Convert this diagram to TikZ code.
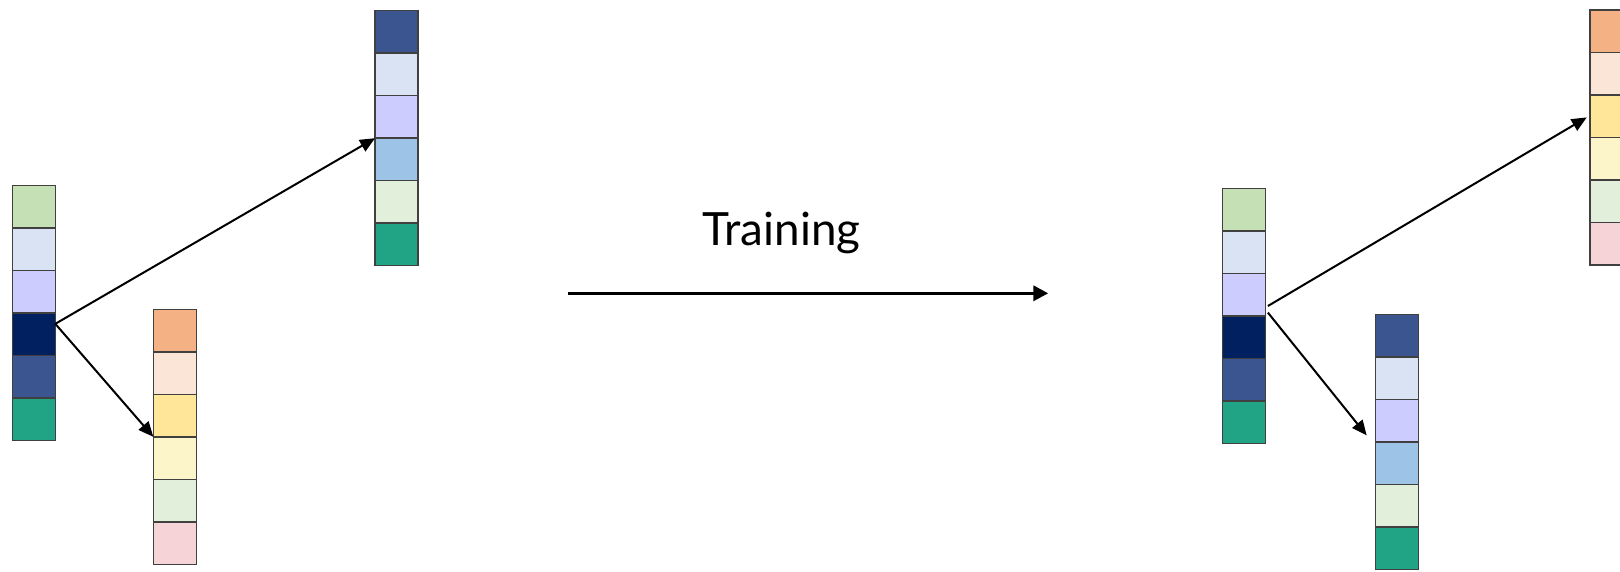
\documentclass[tikz,border=0pt]{standalone}
\usepackage{fontspec}
\setmainfont{Lato}
\usetikzlibrary{arrows.meta,calc}

\definecolor{cGreen}{HTML}{C5E0B4}
\definecolor{cIce}{HTML}{DAE3F3}
\definecolor{cLav}{HTML}{CCCCFF}
\definecolor{cNavy}{HTML}{002060}
\definecolor{cBlue}{HTML}{3B5590}
\definecolor{cTeal}{HTML}{21A386}
\definecolor{cSky}{HTML}{9DC3E6}
\definecolor{cMint}{HTML}{E2EFDA}
\definecolor{cOrange}{HTML}{F4B183}
\definecolor{cPeach}{HTML}{FBE5D6}
\definecolor{cYellow}{HTML}{FFE699}
\definecolor{cCream}{HTML}{FDF5CA}
\definecolor{cPink}{HTML}{F5D3D7}

\tikzset{
  cell/.style={draw=black!75, line width=1.5pt, minimum width=43pt,
    minimum height=42.5pt, inner sep=0pt, outer sep=0pt, anchor=north west},
  link/.style={line width=2pt, -{Triangle[length=15pt,width=13pt]}},
  bigarrow/.style={line width=3.5pt, -{Triangle[length=15pt,width=15pt]}},
  caption/.style={font=\fontsize{45.8}{55}\selectfont, inner sep=0pt, anchor=base}
}

% a vertical stack of six coloured cells: name, left x, top y, colours
\newcommand\cellstack[4]{%
  \foreach \c [count=\i] in {#4} {
    \node[cell, fill=\c] (#1\i) at (#2, {#3+(\i-1)*42.5}) {};
  }%
}

\begin{document}
\begin{tikzpicture}[x=1pt, y=-1pt]
\useasboundingbox (0,0) rectangle (1620,571);

% before training
\cellstack{A}{12.3}{185.7}{cGreen,cIce,cLav,cNavy,cBlue,cTeal}
\cellstack{B}{375}{10.7}{cBlue,cIce,cLav,cSky,cMint,cTeal}
\cellstack{C}{153.3}{309.3}{cOrange,cPeach,cYellow,cCream,cMint,cPink}

\coordinate (As) at ($(A4.north east)!0.5!(A4.east)$);
\draw[link] (As) -- (B3.south west);
\draw[link] (As) -- (C3.south west);

% training step
\coordinate (t0) at (568.3,293.3);
\coordinate (t1) at (1048.3,293.3);
\draw[bigarrow] (t0) -- (t1);
\node[caption] (train) at (781.5,245) {Training};

% after training
\cellstack{D}{1222.3}{188.3}{cGreen,cIce,cLav,cNavy,cBlue,cTeal}
\cellstack{E}{1375.7}{314.3}{cBlue,cIce,cLav,cSky,cMint,cTeal}
\cellstack{F}{1590}{10}{cOrange,cPeach,cYellow,cCream,cMint,cPink}

\coordinate (Du) at ($(D3.south east)+(2.6,-9.8)$);
\coordinate (Dd) at ($(D3.south east)+(2.6,-3.2)$);
\coordinate (Fi) at ($(F3.south west)+(-3.3,-20.1)$);
\coordinate (Ei) at ($(E3.south west)+(-9,-6.4)$);
\draw[link] (Du) -- (Fi);
\draw[link] (Dd) -- (Ei);
\end{tikzpicture}
\end{document}
